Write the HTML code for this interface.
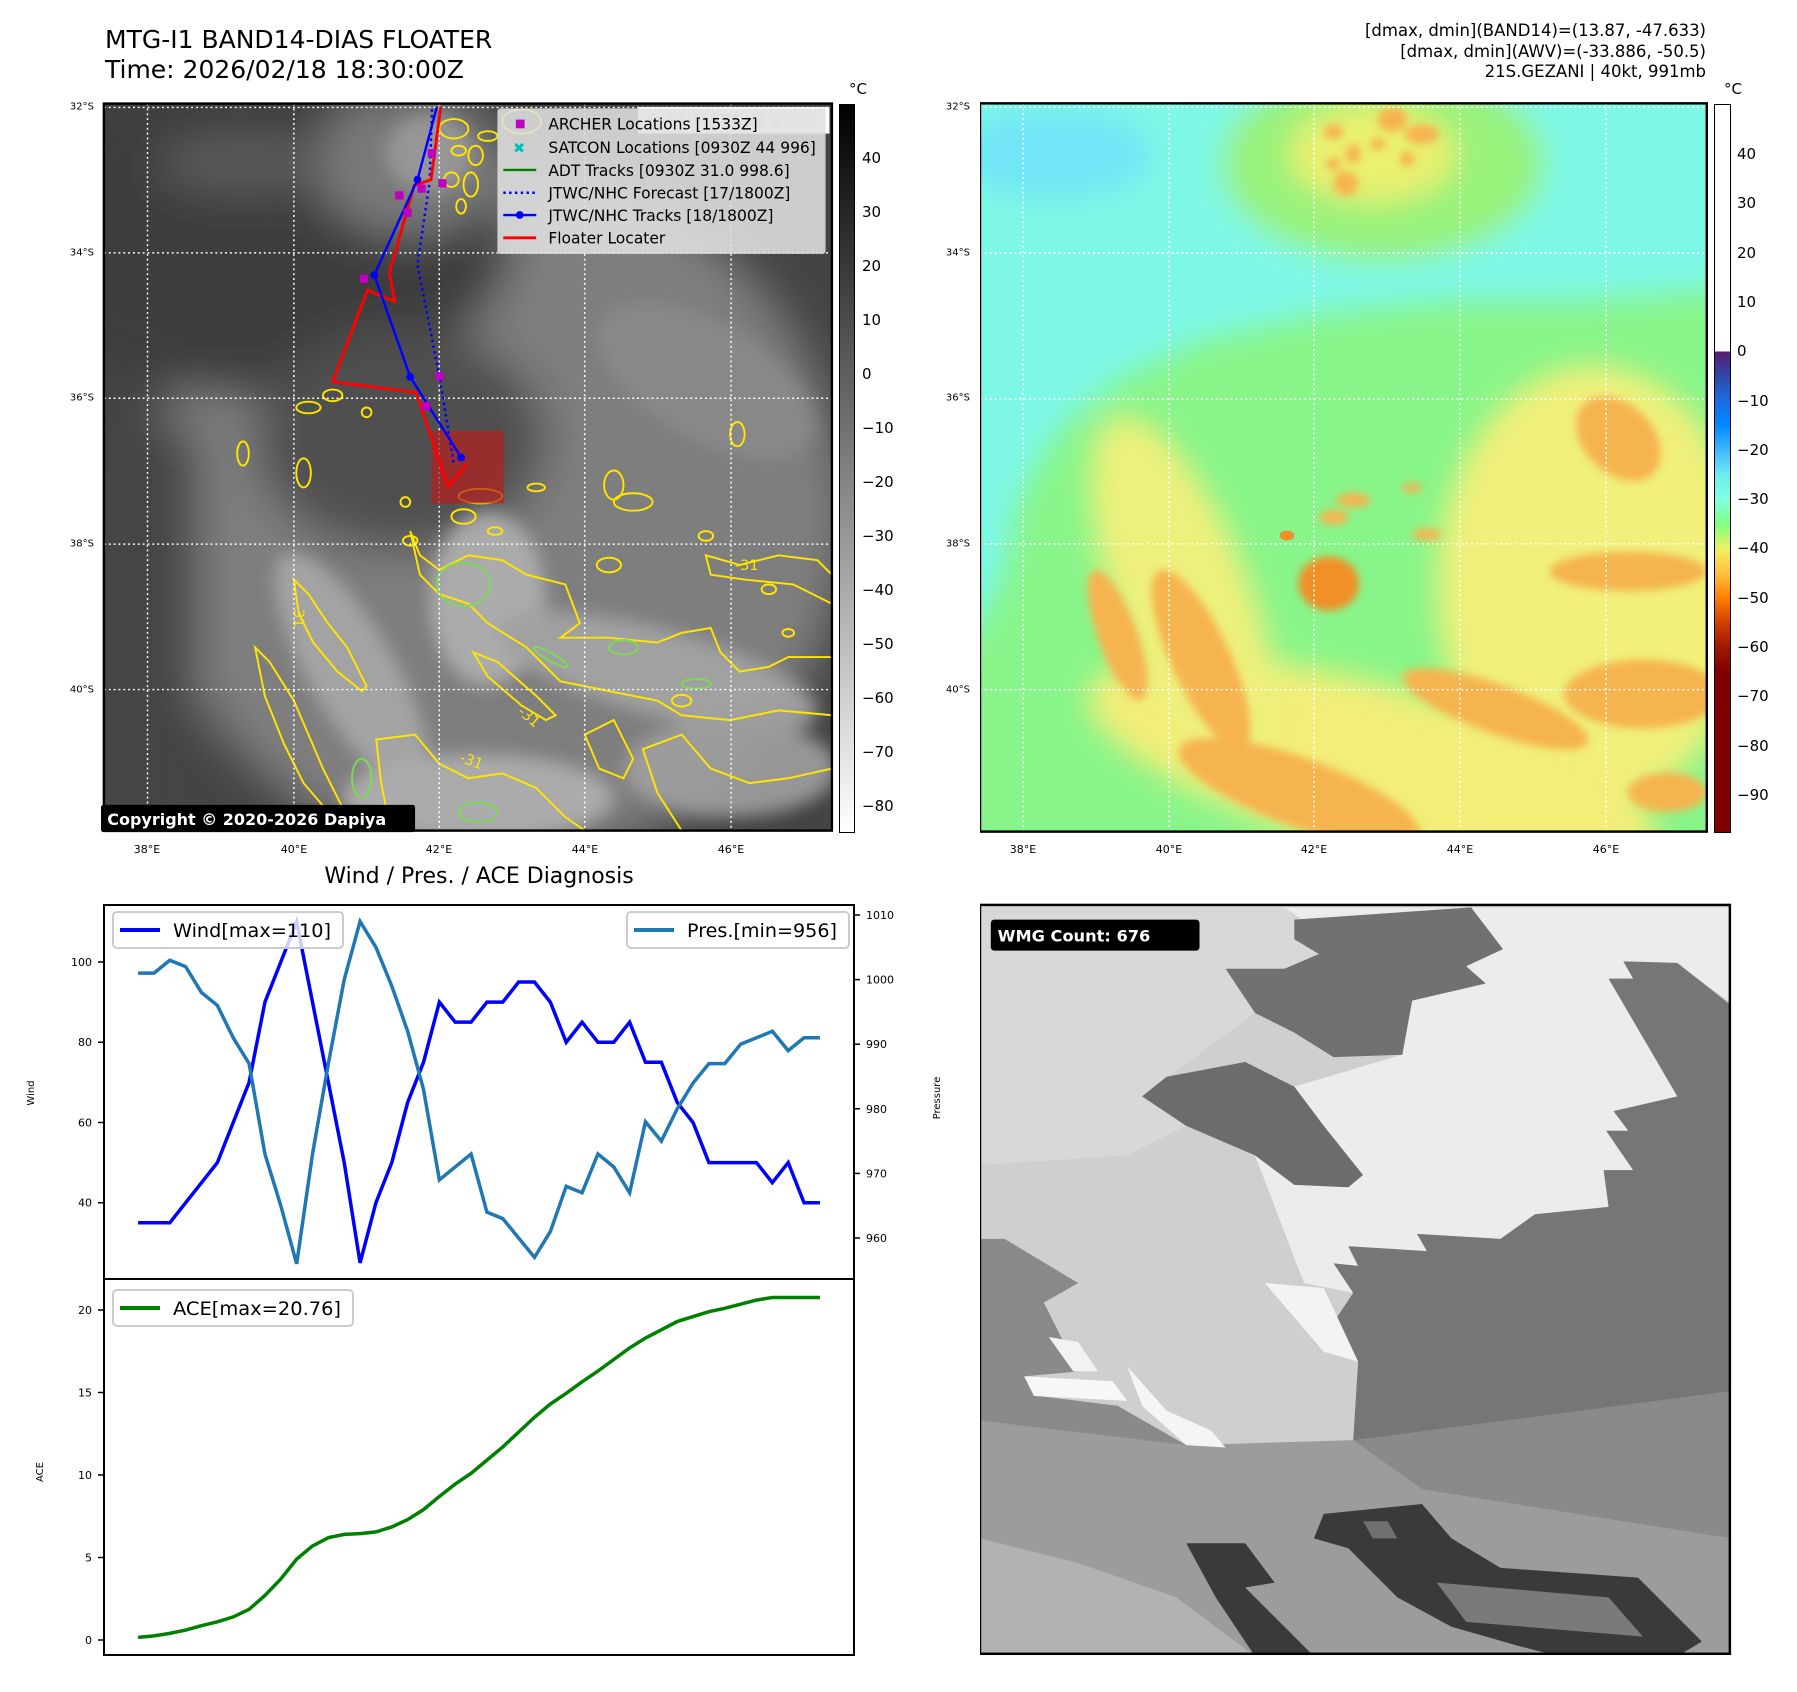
<!DOCTYPE html>
<html><head><meta charset="utf-8"><style>
body{margin:0;background:#fff;font-family:"DejaVu Sans","Liberation Sans",sans-serif;}
#page{position:relative;width:1797px;height:1692px;overflow:hidden;background:#fff;}
.a{position:absolute;white-space:nowrap;color:#000;}
.lat{position:absolute;font-size:10px;text-align:right;width:40px;transform:translateY(-50%);}
.lon{position:absolute;font-size:11px;transform:translateX(-50%);top:843px;}
.cbt{position:absolute;font-size:15px;transform:translateY(-50%);}
</style></head><body>
<div id="page">
<div class="a" style="left:105px;top:25px;font-size:25px;line-height:30px;">MTG-I1 BAND14-DIAS FLOATER<br>Time: 2026/02/18 18:30:00Z</div>
<div class="a" style="right:91px;top:21px;font-size:16.5px;line-height:20.5px;text-align:right;">[dmax, dmin](BAND14)=(13.87, -47.633)<br>[dmax, dmin](AWV)=(-33.886, -50.5)<br>21S.GEZANI | 40kt, 991mb</div>

<!-- LEFT MAP -->
<svg style="position:absolute;left:100px;top:90px" width="760" height="760" viewBox="0 0 1568 1568">
<defs>
<clipPath id="c1"><rect x="8" y="28" width="1502" height="1500"/></clipPath>
<filter id="b1" x="-50%" y="-50%" width="200%" height="200%"><feGaussianBlur stdDeviation="45"/></filter>
<filter id="b2" x="-50%" y="-50%" width="200%" height="200%"><feGaussianBlur stdDeviation="18"/></filter>
</defs>
<g clip-path="url(#c1)">
<rect x="0" y="0" width="1568" height="1568" fill="#444"/>
<g filter="url(#b1)">
<circle cx="820" cy="880" r="720" fill="#7e7e7e"/>
<ellipse cx="330" cy="300" rx="520" ry="330" fill="#3c3c3c"/>
<ellipse cx="620" cy="720" rx="300" ry="230" fill="#505050"/>
<rect x="-100" y="700" width="300" height="900" fill="#454545"/>
<ellipse cx="640" cy="150" rx="200" ry="150" fill="#7a7a7a"/>
<ellipse cx="300" cy="150" rx="180" ry="60" fill="#5c5c5c"/>
</g>
<g filter="url(#b2)" opacity="0.9">
<ellipse cx="520" cy="1200" rx="90" ry="280" fill="#a8a8a8" transform="rotate(-30 520 1200)"/>
<ellipse cx="800" cy="1050" rx="120" ry="180" fill="#b0b0b0"/>
<ellipse cx="1150" cy="1200" rx="340" ry="90" fill="#a5a5a5" transform="rotate(15 1150 1200)"/>
<ellipse cx="780" cy="1460" rx="280" ry="90" fill="#b0b0b0"/>
<ellipse cx="1300" cy="1400" rx="220" ry="100" fill="#a0a0a0"/>
<ellipse cx="1250" cy="600" rx="250" ry="120" fill="#8a8a8a" transform="rotate(30 1250 600)"/>
<ellipse cx="680" cy="130" rx="90" ry="80" fill="#9a9a9a"/>
</g>
<g fill="none" stroke="#ffe500" stroke-width="4">
<path d="M640 910 L660 960 L700 990 L760 960 L830 970 L880 1000 L960 1020 L990 1100 L950 1130 L1050 1130 L1150 1140 L1200 1120 L1260 1110 L1280 1160 L1320 1200 L1380 1190 L1420 1170 L1510 1170 L1510 1290 L1400 1280 L1300 1300 L1200 1290 L1150 1260 L1050 1240 L950 1220 L880 1150 L800 1100 L760 1060 L700 1040 L660 1000 Z"/>
<path d="M770 1160 L820 1180 L900 1250 L940 1290 L920 1300 L870 1270 L800 1210 Z"/>
<path d="M400 1010 L430 1040 L470 1100 L510 1150 L550 1230 L540 1240 L490 1200 L440 1140 L410 1080 Z"/>
<path d="M320 1150 L350 1180 L400 1260 L430 1330 L460 1400 L500 1480 L480 1500 L420 1430 L380 1350 L340 1250 Z"/>
<path d="M570 1340 L650 1330 L700 1390 L760 1420 L830 1410 L900 1440 L960 1500 L1000 1528 L600 1528 L580 1430 Z"/>
<path d="M1250 960 L1320 980 L1400 960 L1480 970 L1510 1000 L1510 1060 L1430 1020 L1330 1010 L1260 1000 Z"/>
<path d="M1120 1360 L1200 1330 L1260 1400 L1340 1430 L1420 1420 L1510 1400 L1510 1528 L1200 1528 L1150 1450 Z"/>
<path d="M1000 1330 L1060 1300 L1100 1380 L1080 1420 L1030 1400 Z"/>
<ellipse cx="640" cy="930" rx="15" ry="10"/><ellipse cx="1100" cy="850" rx="40" ry="18"/><ellipse cx="1060" cy="815" rx="20" ry="30"/>
<ellipse cx="900" cy="820" rx="18" ry="8"/><ellipse cx="1315" cy="710" rx="15" ry="25"/><ellipse cx="1050" cy="980" rx="25" ry="15"/>
<ellipse cx="1250" cy="920" rx="15" ry="10"/><ellipse cx="480" cy="630" rx="20" ry="12"/><ellipse cx="430" cy="655" rx="25" ry="12"/>
<ellipse cx="295" cy="750" rx="12" ry="25"/><ellipse cx="420" cy="790" rx="15" ry="30"/><ellipse cx="550" cy="665" rx="10" ry="10"/>
<ellipse cx="630" cy="850" rx="10" ry="10"/><ellipse cx="750" cy="880" rx="25" ry="15"/><ellipse cx="815" cy="910" rx="15" ry="8"/>
<ellipse cx="785" cy="838" rx="45" ry="15"/><ellipse cx="730" cy="80" rx="30" ry="20"/><ellipse cx="800" cy="95" rx="20" ry="10"/>
<ellipse cx="740" cy="125" rx="15" ry="10"/><ellipse cx="775" cy="135" rx="15" ry="20"/><ellipse cx="725" cy="185" rx="15" ry="15"/>
<ellipse cx="765" cy="195" rx="15" ry="25"/><ellipse cx="745" cy="240" rx="10" ry="15"/><ellipse cx="870" cy="65" rx="40" ry="25"/>
<ellipse cx="1380" cy="1030" rx="15" ry="10"/><ellipse cx="1200" cy="1260" rx="20" ry="12"/><ellipse cx="1420" cy="1120" rx="12" ry="8"/>
</g>
<g fill="none" stroke="#7ed957" stroke-width="4">
<ellipse cx="750" cy="1020" rx="55" ry="45"/><ellipse cx="1080" cy="1150" rx="30" ry="15"/><ellipse cx="1230" cy="1225" rx="30" ry="10"/>
<ellipse cx="930" cy="1170" rx="40" ry="8" transform="rotate(30 930 1170)"/><ellipse cx="780" cy="1490" rx="40" ry="20"/><ellipse cx="540" cy="1420" rx="20" ry="40"/>
</g>
<g fill="#ffe500" font-size="30"><text x="1310" y="990">-31</text><text x="860" y="1285" transform="rotate(40 860 1285)">-31</text><text x="740" y="1385" transform="rotate(20 740 1385)">-31</text><text x="400" y="1060" transform="rotate(90 400 1060)">-31</text></g>
<g stroke="#fff" stroke-width="3" stroke-dasharray="4 6" fill="none">
<line x1="98" y1="28" x2="98" y2="1528"/><line x1="400" y1="28" x2="400" y2="1528"/><line x1="700" y1="28" x2="700" y2="1528"/><line x1="1000" y1="28" x2="1000" y2="1528"/><line x1="1302" y1="28" x2="1302" y2="1528"/>
<line x1="8" y1="36" x2="1510" y2="36"/><line x1="8" y1="336" x2="1510" y2="336"/><line x1="8" y1="636" x2="1510" y2="636"/><line x1="8" y1="937" x2="1510" y2="937"/><line x1="8" y1="1237" x2="1510" y2="1237"/>
</g>
<rect x="684" y="703" width="149" height="150" fill="#b42020" opacity="0.72"/>
<polyline points="685,40 680,190 655,360 700,590 730,770" fill="none" stroke="#0000ff" stroke-width="5" stroke-dasharray="5 7"/>
<polyline points="703,35 683,185 648,197 597,378 608,436 552,413 480,602 652,624 718,818 757,773" fill="none" stroke="#ff0000" stroke-width="6"/>
<polyline points="695,35 655,185 566,382 640,592 745,758" fill="none" stroke="#0000ff" stroke-width="5"/>
<g fill="#0000ff"><circle cx="655" cy="185" r="8"/><circle cx="566" cy="382" r="8"/><circle cx="640" cy="592" r="8"/><circle cx="745" cy="758" r="8"/></g>
<g fill="#c000c0"><rect x="676" y="122" width="17" height="17"/><rect x="698" y="184" width="17" height="17"/><rect x="609" y="209" width="17" height="17"/><rect x="655" y="195" width="17" height="17"/><rect x="626" y="245" width="17" height="17"/><rect x="536" y="381" width="17" height="17"/><rect x="692" y="582" width="17" height="17"/><rect x="664" y="644" width="17" height="17"/></g>
<rect x="1110" y="35" width="395" height="55" fill="#fff"/>
<text x="1125" y="75" font-size="34" font-weight="bold" fill="#ddd">© EUMETSAT 2026</text>
<g>
<rect x="820" y="38" width="677" height="300" rx="6" fill="#e0e0e0" opacity="0.88"/>
<g font-size="32" fill="#000">
<rect x="858" y="61" width="18" height="18" fill="#c000c0"/><text x="925" y="82">ARCHER Locations [1533Z]</text>
<text x="852" y="130" fill="#00c0c0" font-size="30" font-weight="bold">✖</text><text x="925" y="130">SATCON Locations [0930Z 44 996]</text>
<line x1="832" y1="165" x2="900" y2="165" stroke="#008000" stroke-width="5"/><text x="925" y="177">ADT Tracks [0930Z 31.0 998.6]</text>
<line x1="832" y1="212" x2="900" y2="212" stroke="#0000ff" stroke-width="5" stroke-dasharray="5 7"/><text x="925" y="224">JTWC/NHC Forecast [17/1800Z]</text>
<line x1="832" y1="258" x2="900" y2="258" stroke="#0000ff" stroke-width="5"/><circle cx="866" cy="258" r="8" fill="#0000ff"/><text x="925" y="270">JTWC/NHC Tracks [18/1800Z]</text>
<line x1="832" y1="305" x2="900" y2="305" stroke="#ff0000" stroke-width="6"/><text x="925" y="317">Floater Locater</text>
</g></g>
</g>
<rect x="8" y="28" width="1502" height="1500" fill="none" stroke="#000" stroke-width="5"/>
<rect x="2" y="1475" width="648" height="56" rx="5" fill="#000"/>
<text x="15" y="1516" font-size="33" font-weight="bold" fill="#fff">Copyright © 2020-2026 Dapiya</text>
</svg>
<div style="position:absolute;left:839px;top:104px;width:14px;height:727px;border:1px solid #000;background:linear-gradient(#000,#fff);"></div>
<div class="a" style="left:849px;top:80px;font-size:15px;">°C</div>

<!-- RIGHT MAP -->
<svg style="position:absolute;left:980px;top:95px" width="770" height="770" viewBox="0 0 1568 1568">
<defs>
<clipPath id="c2"><rect x="0" y="17" width="1480" height="1483"/></clipPath>
<filter id="b3" x="-50%" y="-50%" width="200%" height="200%"><feGaussianBlur stdDeviation="30"/></filter>
<filter id="b4" x="-50%" y="-50%" width="200%" height="200%"><feGaussianBlur stdDeviation="8"/></filter>
</defs>
<g clip-path="url(#c2)">
<rect x="0" y="0" width="1568" height="1568" fill="#88f58a"/>
<g filter="url(#b3)">
<path d="M-100 -100 L1600 -100 L1600 350 L1480 400 L1200 420 L950 420 L700 445 L450 500 L280 580 L160 680 L80 820 L40 1000 L-100 1250 Z" fill="#7ef8e6"/>
<ellipse cx="150" cy="120" rx="200" ry="90" fill="#6fe6f6"/>
<ellipse cx="820" cy="140" rx="330" ry="200" fill="#98f27c"/>
<ellipse cx="1250" cy="1000" rx="320" ry="450" fill="#f0f07a"/>
<ellipse cx="800" cy="1370" rx="600" ry="170" fill="#f2ee78" transform="rotate(15 800 1370)"/>
<ellipse cx="420" cy="1050" rx="140" ry="420" fill="#eef07c" transform="rotate(-20 420 1050)"/>
<ellipse cx="800" cy="120" rx="170" ry="100" fill="#eaf070"/>
</g>
<g filter="url(#b4)" fill="#f6b450">
<ellipse cx="1300" cy="700" rx="100" ry="70" transform="rotate(45 1300 700)"/>
<ellipse cx="1350" cy="1220" rx="160" ry="70"/>
<ellipse cx="650" cy="1420" rx="260" ry="70" transform="rotate(20 650 1420)"/>
<ellipse cx="450" cy="1150" rx="60" ry="200" transform="rotate(-25 450 1150)"/>
<ellipse cx="1050" cy="1250" rx="200" ry="50" transform="rotate(20 1050 1250)"/>
<ellipse cx="1320" cy="970" rx="160" ry="40"/>
<ellipse cx="280" cy="1100" rx="40" ry="140" transform="rotate(-20 280 1100)"/>
<ellipse cx="1400" cy="1420" rx="80" ry="40"/>
<ellipse cx="720" cy="75" rx="20" ry="15"/><ellipse cx="840" cy="50" rx="30" ry="25"/><ellipse cx="900" cy="80" rx="35" ry="20"/>
<ellipse cx="760" cy="120" rx="15" ry="20"/><ellipse cx="810" cy="100" rx="15" ry="12"/><ellipse cx="745" cy="180" rx="25" ry="25"/>
<ellipse cx="870" cy="130" rx="15" ry="15"/><ellipse cx="720" cy="140" rx="15" ry="12"/>
<ellipse cx="760" cy="825" rx="35" ry="15"/><ellipse cx="720" cy="860" rx="30" ry="15"/><ellipse cx="880" cy="800" rx="20" ry="10"/><ellipse cx="910" cy="895" rx="30" ry="12"/>
</g>
<ellipse cx="710" cy="995" rx="62" ry="55" fill="#f09028" filter="url(#b4)"/>
<ellipse cx="625" cy="897" rx="15" ry="10" fill="#f09028"/>
<g stroke="#fff" stroke-width="3" stroke-dasharray="4 6">
<line x1="88" y1="17" x2="88" y2="1500"/><line x1="385" y1="17" x2="385" y2="1500"/><line x1="680" y1="17" x2="680" y2="1500"/><line x1="977" y1="17" x2="977" y2="1500"/><line x1="1275" y1="17" x2="1275" y2="1500"/>
<line x1="0" y1="25" x2="1480" y2="25"/><line x1="0" y1="322" x2="1480" y2="322"/><line x1="0" y1="619" x2="1480" y2="619"/><line x1="0" y1="914" x2="1480" y2="914"/><line x1="0" y1="1211" x2="1480" y2="1211"/>
</g>
</g>
<rect x="0" y="17" width="1480" height="1483" fill="none" stroke="#000" stroke-width="5"/>
</svg>
<div style="position:absolute;left:1714px;top:104px;width:15px;height:727px;border:1px solid #000;background:linear-gradient(#fff 0%,#fff 33.9%,#5a1a70 33.9%,#3048a8 37.3%,#1a6ee0 40.7%,#0088ff 44%,#40b8ff 47.5%,#70eef0 51%,#80ffe0 54.3%,#80ff80 57.7%,#f0f060 61.1%,#ffc040 64.5%,#ff8000 67.8%,#d04000 71.2%,#a01800 74.6%,#800000 78%,#800000 100%);"></div>
<div class="a" style="left:1724px;top:80px;font-size:15px;">°C</div>

<!-- BOTTOM RIGHT WMG -->
<svg style="position:absolute;left:980px;top:900px" width="770" height="770" viewBox="0 0 1568 1568">
<defs><clipPath id="c3"><rect x="0" y="10" width="1527" height="1525"/></clipPath></defs>
<g clip-path="url(#c3)">
<rect width="1568" height="1568" fill="#cfcfcf"/>
<polygon points="0,10 620,10 700,110 560,230 330,400 420,460 300,520 0,540" fill="#d8d8d8"/>
<polygon points="620,15 1530,15 1530,210 1420,130 1310,125 1330,160 1280,160 1420,400 1290,430 1320,470 1275,470 1330,550 1270,550 1280,625 1130,640 1060,690 890,680 910,715 750,705 770,745 720,740 760,800 660,780 560,520 700,460 640,380 860,315 880,205" fill="#ececec"/>
<polygon points="1420,128 1530,215 1530,1100 760,1100 770,940 720,860 760,800 720,740 770,745 750,705 910,715 890,680 1060,690 1130,640 1280,625 1270,550 1330,550 1275,470 1320,470 1290,430 1420,400 1280,160 1330,160 1310,125" fill="#767676"/>
<polygon points="0,1050 420,1110 760,1100 1530,1100 1530,1540 0,1540" fill="#9c9c9c"/>
<polygon points="760,1100 1530,1000 1530,1300 900,1200" fill="#8a8a8a"/>
<polygon points="0,690 50,690 200,780 130,820 200,960 90,970 120,1010 280,1030 420,1110 0,1060" fill="#8a8a8a"/>
<polygon points="640,40 1000,15 1065,100 990,135 1030,170 880,205 860,315 720,320 640,270 560,230 500,140 620,140 690,110 640,80" fill="#717171"/>
<polygon points="330,400 380,360 540,330 640,380 700,460 780,560 750,585 640,580 560,520 420,460" fill="#6c6c6c"/>
<polygon points="90,970 270,980 300,1020 110,1010" fill="#f7f7f7"/>
<polygon points="140,890 200,900 240,960 190,960" fill="#f2f2f2"/>
<polygon points="300,950 380,1040 470,1080 500,1115 420,1110 330,1030" fill="#f5f5f5"/>
<polygon points="580,780 700,790 770,940 700,920" fill="#f3f3f3"/>
<polygon points="0,1300 200,1350 400,1420 560,1540 0,1540" fill="#b2b2b2"/>
<polygon points="420,1310 540,1310 600,1390 540,1400 620,1480 680,1540 560,1540 480,1420" fill="#3a3a3a"/>
<polygon points="700,1250 900,1230 960,1300 1060,1360 1340,1380 1470,1510 1420,1540 1180,1540 1100,1520 960,1480 850,1420 750,1320 680,1300" fill="#3a3a3a"/>
<polygon points="930,1390 1280,1420 1350,1500 990,1470" fill="#7a7a7a"/>
<polygon points="780,1265 830,1265 850,1300 800,1300" fill="#707070"/>
</g>
<rect x="0" y="10" width="1527" height="1525" fill="none" stroke="#000" stroke-width="5"/>
<rect x="22" y="40" width="425" height="63" rx="7" fill="#000"/>
<text x="36" y="84" font-size="33" font-weight="bold" fill="#fff">WMG Count: 676</text>
</svg>

<!-- DIAGNOSIS CHART -->
<div class="a" style="left:479px;top:864px;font-size:22px;transform:translateX(-50%);">Wind / Pres. / ACE Diagnosis</div>
<svg id="chart" style="position:absolute;left:0;top:0" width="1797" height="1692"></svg>
<div id="labels"></div>
</div>
<script>
const windValues=[35,35,35,40,45,50,60,70,90,100,110,90,70,50,25,40,50,65,75,90,85,85,90,90,95,95,90,80,85,80,80,85,75,75,65,60,50,50,50,50,45,50,40,40];
const presValues=[1001,1001,1003,1002,998,996,991,987,973,965,956,973,987,1000,1009,1005,999,992,983,969,971,973,964,963,960,957,961,968,967,973,971,967,978,975,980,984,987,987,990,991,992,989,991,991];
const aceValues=[0.16,0.25,0.4,0.6,0.87,1.1,1.4,1.86,2.7,3.7,4.9,5.7,6.2,6.4,6.45,6.55,6.85,7.3,7.9,8.7,9.45,10.1,10.9,11.7,12.6,13.5,14.3,14.95,15.65,16.3,17,17.7,18.3,18.8,19.3,19.6,19.9,20.1,20.35,20.6,20.76,20.76,20.76,20.76];
const windTicks=[40,60,80,100];
const presTicks=[960,970,980,990,1000,1010];
const aceTicks=[0,5,10,15,20];
const leftLatLabels=["32°S","34°S","36°S","38°S","40°S"];
const lonLabels=["38°E","40°E","42°E","44°E","46°E"];
const band14Ticks=[40,30,20,10,0,-10,-20,-30,-40,-50,-60,-70,-80];
const awvTicks=[40,30,20,10,0,-10,-20,-30,-40,-50,-60,-70,-80,-90];

const NS='http://www.w3.org/2000/svg';
const svg=document.getElementById('chart');
const L=104,R=854,T1=905,B1=1279,B2=1655;
const n=windValues.length;
const xs=i=>L+(i+0.05*(n-1))/((n-1)*1.1)*(R-L);
const yW=v=>962+(100-v)*4.012;
const yP=p=>915+(1010-p)*6.46;
const yA=a=>1640-a*16.5;
function mk(tag,attrs){const e=document.createElementNS(NS,tag);for(const k in attrs)e.setAttribute(k,attrs[k]);svg.appendChild(e);return e;}
function txt(x,y,s,size,anchor,extra){const t=mk('text',Object.assign({x:x,y:y,'font-size':size,'text-anchor':anchor||'start','font-family':'DejaVu Sans, Liberation Sans, sans-serif'},extra||{}));t.textContent=s;return t;}

const wl=mk('polyline',{points:windValues.map((v,i)=>xs(i)+','+yW(v)).join(' '),fill:'none',stroke:'#0000ff','stroke-width':3.5,'stroke-linejoin':'miter'});


const pl=mk('polyline',{points:presValues.map((v,i)=>xs(i)+','+yP(v)).join(' '),fill:'none',stroke:'#1f77b4','stroke-width':3.5});


const al=mk('polyline',{points:aceValues.map((v,i)=>xs(i)+','+yA(v)).join(' '),fill:'none',stroke:'#008000','stroke-width':3.5});



const f1=mk('rect',{x:L,y:T1,width:R-L,height:B1-T1,fill:'none',stroke:'#000','stroke-width':2});


const f2=mk('rect',{x:L,y:B1,width:R-L,height:B2-B1,fill:'none',stroke:'#000','stroke-width':2});



windTicks.forEach(v=>{mk('line',{x1:L-6,x2:L,y1:yW(v),y2:yW(v),stroke:'#000','stroke-width':1.5});
 const t=txt(L-12,yW(v)+4,String(v),11,'end');});
presTicks.forEach(v=>{mk('line',{x1:R,x2:R+6,y1:yP(v),y2:yP(v),stroke:'#000','stroke-width':1.5});
 const t=txt(R+12,yP(v)+4,String(v),11,'start');});
aceTicks.forEach(v=>{mk('line',{x1:L-6,x2:L,y1:yA(v),y2:yA(v),stroke:'#000','stroke-width':1.5});
 const t=txt(L-12,yA(v)+4,String(v),11,'end');});

let yl=txt(0,0,'Wind',10,'middle',{transform:'translate(34 1093) rotate(-90)'});


yl=txt(0,0,'Pressure',10,'middle',{transform:'translate(940 1098) rotate(-90)'});


yl=txt(0,0,'ACE',10,'middle',{transform:'translate(43 1472) rotate(-90)'});



function legend(x,y,w,label,color,name){
 const g=mk('g',{});
 
 
 const r=document.createElementNS(NS,'rect');
 [['x',x],['y',y],['width',w],['height',36],['rx',4],['fill','#fff'],['fill-opacity',0.8],['stroke','#ccc'],['stroke-width',2]].forEach(a=>r.setAttribute(a[0],a[1]));g.appendChild(r);
 const ln=document.createElementNS(NS,'line');
 [['x1',x+7],['x2',x+47],['y1',y+18],['y2',y+18],['stroke',color],['stroke-width',4]].forEach(a=>ln.setAttribute(a[0],a[1]));g.appendChild(ln);
 const t=document.createElementNS(NS,'text');
 [['x',x+60],['y',y+25],['font-size',19],['font-family','DejaVu Sans, Liberation Sans, sans-serif'],['textLength',w-72],['lengthAdjust','spacingAndGlyphs']].forEach(a=>t.setAttribute(a[0],a[1]));t.textContent=label;g.appendChild(t);
}
legend(113,912,230,'Wind[max='+Math.max(...windValues)+']','#0000ff','wind-legend');
legend(627,912,222,'Pres.[min='+Math.min(...presValues)+']','#1f77b4','pressure-legend');
legend(113,1290,240,'ACE[max='+Math.max(...aceValues).toFixed(2)+']','#008000','ace-legend');

const lab=document.getElementById('labels');
function div(cls,style,text,name){const d=document.createElement('div');d.className=cls;d.setAttribute('style',style);d.textContent=text;
 
 
 lab.appendChild(d);}
const latY=[107,253,398,544,690];
leftLatLabels.forEach((s,i)=>{div('lat','left:54px;top:'+latY[i]+'px;',s,'lat-label-left');div('lat','left:930px;top:'+latY[i]+'px;',s,'lat-label-right');});
const lonXL=[147,294,439,585,731],lonXR=[1023,1169,1314,1460,1606];
lonLabels.forEach((s,i)=>{div('lon','left:'+lonXL[i]+'px;',s,'lon-label-left');div('lon','left:'+lonXR[i]+'px;',s,'lon-label-right');});
band14Ticks.forEach(v=>{const y=158+(40-v)*5.4;div('cbt','left:862px;top:'+y+'px;',String(v).replace('-','−'),'band14-colorbar-tick');});
awvTicks.forEach(v=>{const y=154+(40-v)*4.93;div('cbt','left:1737px;top:'+y+'px;',String(v).replace('-','−'),'awv-colorbar-tick');});
</script>
</body></html>
